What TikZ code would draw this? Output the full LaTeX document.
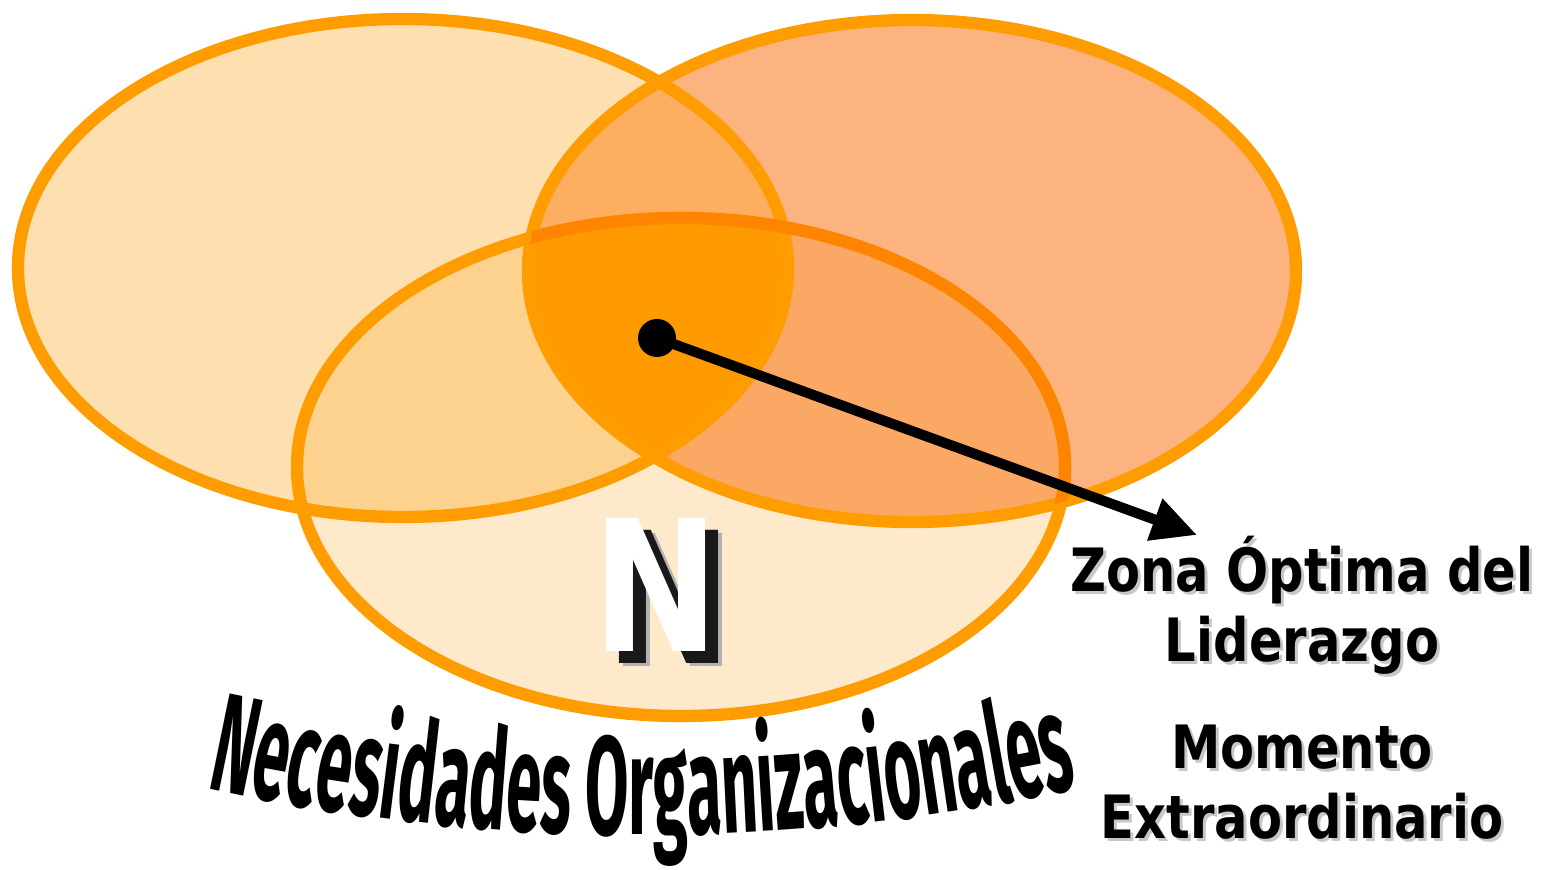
\documentclass[tikz,border=0pt]{standalone}
\usepackage{fontspec}
\usetikzlibrary{arrows.meta,decorations.text}
\newfontfamily\zonefont[FakeStretch=0.83]{DejaVu Sans}
\newfontfamily\archfont[FakeStretch=0.45]{Fira Sans}
\definecolor{ringorange}{HTML}{FF9C00}
\definecolor{ringdark}{HTML}{FF8400}
\definecolor{fillL}{HTML}{FDDFB0}
\definecolor{fillR}{HTML}{FDB380}
\definecolor{fillB}{HTML}{FEE9CB}
\definecolor{fillLB}{HTML}{FDD18E}
\definecolor{fillRB}{HTML}{FCA865}
\definecolor{fillLR}{HTML}{FDAE60}
\definecolor{fillLRB}{HTML}{FF9A00}
\tikzstyle{ring} = [draw=ringorange, line width=3.5pt]
\tikzstyle{zonetext} = [font=\zonefont\bfseries\fontsize{17}{20}\selectfont, anchor=base, inner sep=0pt]
\tikzstyle{zoneshadow} = [zonetext, text=black!22]
\tikzstyle{bigletter} = [font=\zonefont\bfseries\fontsize{52}{52}\selectfont, inner sep=0pt, text=white]
\tikzstyle{pointer} = [draw, line width=2.9pt, -{Triangle[length=0.45cm,width=0.42cm]}]

\begin{document}
\begin{tikzpicture}
\useasboundingbox (0,0) rectangle (15.48,8.69);
\def\lefte{(4.03,6.01) ellipse [x radius=3.85, y radius=2.49]}
\def\righte{(9.12,5.98) ellipse [x radius=3.84, y radius=2.51]}
\def\bottome{(6.81,4.02) ellipse [x radius=3.84, y radius=2.49]}

\fill[fillL] \lefte;
\fill[fillR] \righte;
\fill[fillB] \bottome;
\begin{scope}
  \clip \lefte;
  \fill[fillLR] \righte;
  \fill[fillLB] \bottome;
\end{scope}
\begin{scope}
  \clip \righte;
  \fill[fillRB] \bottome;
  \clip \lefte;
  \fill[fillLRB] \bottome;
\end{scope}

\path[ring] \lefte;
\path[ring] \righte;
\path[ring] \bottome;
\begin{scope}
  \clip \righte;
  \path[ring, draw=ringdark] \bottome;
\end{scope}

\node[bigletter, text=black!30] at (6.73,2.69) {N};
\node[bigletter, text=black!90] at (6.69,2.72) {N};
\node[bigletter] (nmark) at (6.56,2.84) {N};

\node[circle, fill=black, minimum size=0.38cm, inner sep=0pt] (dot) at (6.57,5.31) {};
\coordinate (tip) at (11.97,3.34);
\path[pointer] (dot.center) -- (tip);

\foreach \y/\txt [count=\i] in {2.77/Zona Óptima del, 2.07/Liderazgo, 1.01/Momento, 0.31/Extraordinario}{
  \node[zoneshadow] at (13.05,\y-0.03) {\txt};
  \node[zonetext] (line\i) at (13.02,\y) {\txt};
}

\path[decorate, decoration={text along path, text align=center,
  text={|\archfont\bfseries\fontsize{40}{40}\selectfont|Necesidades Organizacionales}}]
  (2.15,0.79) .. controls (5.0,0.19) and (7.85,0.19) .. (10.70,0.79);
\end{tikzpicture}
\end{document}
